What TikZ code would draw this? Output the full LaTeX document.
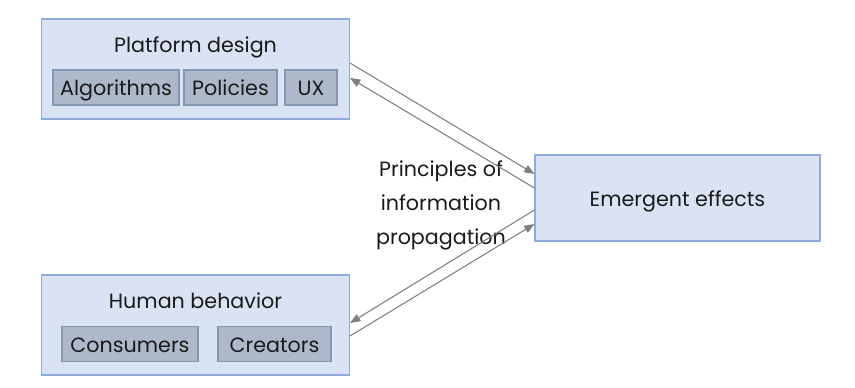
\documentclass[tikz,border=0pt]{standalone}
\usepackage{fontspec}
\setmainfont{Poppins}
\usetikzlibrary{arrows.meta,calc,positioning}
\definecolor{Frame}{HTML}{8FAADC}
\definecolor{Pale}{HTML}{DAE3F3}
\definecolor{Slate}{HTML}{ADB9CA}
\definecolor{SlateEdge}{HTML}{8497B0}
\definecolor{Wire}{HTML}{7F7F7F}
\definecolor{Ink}{HTML}{1A1A1A}
\tikzset{
  group/.style={
    draw=Frame, thick, fill=Pale,
    minimum width=308*0.75pt, minimum height=100*0.75pt, inner sep=0pt
  },
  effect/.style={
    draw=Frame, thick, fill=Pale, text=Ink,
    minimum width=285*0.75pt, minimum height=86*0.75pt, inner sep=0pt,
    text height=12pt, text depth=0pt
  },
  part/.style={
    draw=SlateEdge, thick, fill=Slate, text=Ink,
    minimum height=35*0.75pt, inner sep=0pt,
    text height=12pt, text depth=0pt
  },
  label/.style={text=Ink, text height=12pt, text depth=0pt},
  link/.style={-{Triangle[length=2.7mm,width=2.1mm]}, draw=Wire, thick}
}
\begin{document}
\begin{tikzpicture}[x=0.75pt,y=-0.75pt,font=\fontsize{15.5}{19}\selectfont]
        \useasboundingbox (0,0) rectangle (855,388);
        % outer boxes
        \node[group] (platform) at (195.5,69) {};
        \node[group] (human) at (195.5,325) {};
        \node[effect] (effects) at (677.5,198) {Emergent effects};
        \node[label] (platformtitle) at (195.5,45) {Platform design};
        \node[label] (humantitle) at (195.5,300) {Human behavior};
        % inner boxes
        \node[part,minimum width=126*0.75pt] (algo) at (116,87.5) {Algorithms};
        \node[part,minimum width=93*0.75pt] (policy) at (230.5,87.5) {Policies};
        \node[part,minimum width=52*0.75pt] (ux) at (311,87.5) {UX};
        \node[part,minimum width=136*0.75pt] (consumer) at (130,344) {Consumers};
        \node[part,minimum width=113*0.75pt] (creator) at (274.5,344) {Creators};
        % middle text
        \node[text=Ink,align=center] (principles) at (441,205) {Principles of\\[6.5pt] information\\[6.5pt] propagation};
        % arrows
        \draw[link] ($(platform.east)+(0,-6)$) -- ($(effects.west)+(0,-24)$);
        \draw[link] ($(effects.west)+(0,-10)$) -- ($(platform.east)+(0,9)$);
        \draw[link] ($(effects.west)+(0,12)$) -- ($(human.east)+(0,-2)$);
        \draw[link] ($(human.east)+(0,11)$) -- ($(effects.west)+(0,26)$);
\end{tikzpicture}
\end{document}
